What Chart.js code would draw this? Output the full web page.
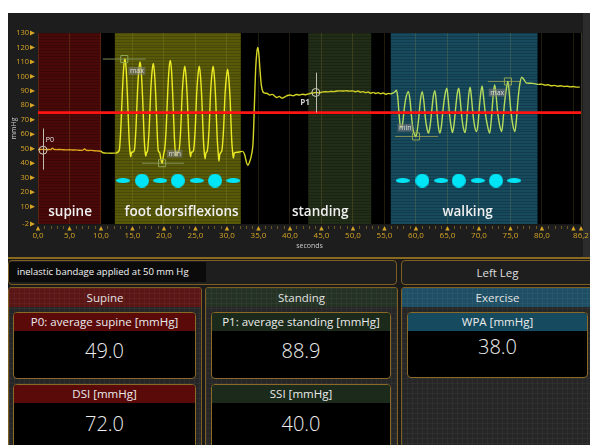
<!DOCTYPE html>
<html>
<head>
<meta charset="utf-8">
<title>Interface pressure – Left Leg</title>
<script src="https://cdn.jsdelivr.net/npm/chart.js@4.4.1/dist/chart.umd.min.js"></script>
<style>
  html, body { margin:0; padding:0; }
  body { width:590px; height:445px; background:#fff; position:relative; overflow:hidden;
         font-family:"Open Sans","Noto Sans",sans-serif; color:#e6e6e6; }
  #plotPanel { position:absolute; left:8px; top:13px; width:582px; height:244px; background:#1d1d1d;
               border-bottom:2px solid #8a6a1e; }
  #plotPanel canvas { display:block; }
  #infoPanel { position:absolute; left:8px; top:259px; width:582px; height:186px; background:#1a1a1a; }
  .tex { background-image:linear-gradient(rgba(255,255,255,.035) 1px, transparent 1px),
                          linear-gradient(90deg, rgba(255,255,255,.035) 1px, transparent 1px);
         background-size:5px 5px; }
  .frame { position:absolute; box-sizing:border-box; border:1px solid #7d5f22; border-radius:4px; overflow:hidden; }
  .note { position:absolute; left:0; top:1px; width:197px; height:20px; background:#0b0b0b; font-size:9.5px;
          line-height:20px; padding-left:8px; color:#f4f4f4; box-sizing:border-box; white-space:nowrap; }
  .caption { text-align:center; font-size:11.5px; line-height:23px; color:#dedede; }
  .col { position:absolute; box-sizing:border-box; border:1px solid #7d5f22; border-radius:3px; background-color:#262626; overflow:hidden; }
  .colHead { height:19px; line-height:19px; text-align:center; font-size:11.5px; color:#e2e2e2; }
  .card { position:absolute; box-sizing:border-box; border:1px solid #8a6a26; border-radius:4px; background:#000; overflow:hidden; }
  .card .head { height:18px; line-height:18px; text-align:center; font-size:11.5px; color:#ececec; white-space:nowrap; }
  .card .val { position:absolute; left:0; right:0; text-align:center; font-size:20px; font-weight:300; line-height:24px; color:#ededed; }
</style>
</head>
<body>
<div id="plotPanel"><canvas id="trace" width="582" height="244"></canvas></div>
<div id="infoPanel"></div>

<div class="frame" style="left:8px;top:260px;width:389px;height:25px;background:#1e1e1e;">
  <div class="note" id="note"></div>
</div>
<div class="frame" style="left:401px;top:260px;width:193px;height:25px;background:#1e1e1e;">
  <div class="caption" id="legName"></div>
</div>

<div class="col tex" style="left:8px;top:287px;width:194px;height:170px;">
  <div class="colHead tex" style="background-color:#5a1515;" id="colSupine"></div>
</div>
<div class="col tex" style="left:205px;top:287px;width:193px;height:170px;">
  <div class="colHead tex" style="background-color:#243224;" id="colStanding"></div>
</div>
<div class="col tex" style="left:401px;top:287px;width:193px;height:170px;">
  <div class="colHead tex" style="background-color:#1f4f64;" id="colExercise"></div>
</div>

<div class="card" style="left:13px;top:312px;width:183px;height:67px;">
  <div class="head" style="background:#5b0a0a;" id="t0"></div><div class="val" style="top:26px;" id="v0"></div>
</div>
<div class="card" style="left:13px;top:384px;width:183px;height:70px;">
  <div class="head" style="background:#5b0a0a;" id="t1"></div><div class="val" style="top:26.5px;" id="v1"></div>
</div>
<div class="card" style="left:211px;top:312px;width:180px;height:67px;">
  <div class="head" style="background:#1b2a1b;" id="t2"></div><div class="val" style="top:26px;" id="v2"></div>
</div>
<div class="card" style="left:211px;top:384px;width:180px;height:70px;">
  <div class="head" style="background:#1b2a1b;" id="t3"></div><div class="val" style="top:26.5px;" id="v3"></div>
</div>
<div class="card" style="left:407px;top:312px;width:181px;height:66px;">
  <div class="head" style="background:#164a5f;" id="t4"></div><div class="val" style="top:21.5px;" id="v4"></div>
</div>

<script>
// ---- recording: interface pressure under the bandage (seconds, mmHg) ----
const seconds = [
  0.0, 0.4, 0.8, 1.2, 1.6, 2.0, 2.3, 2.6, 3.0, 3.5, 4.0, 4.5, 5.0, 5.5, 6.0, 6.5, 7.0, 7.4, 7.7, 8.0,
  8.5, 9.0, 9.5, 10.0, 10.3, 11.0, 11.6, 12.3,
  12.9, 13.15, 13.4, 13.62, 13.8, 13.98, 14.2, 14.45, 14.6, 14.72, 14.85, 15.1,
  15.3, 15.55, 15.8, 16.02, 16.2, 16.38, 16.6, 16.85, 17.0, 17.12, 17.25, 17.35,
  17.4, 17.65, 17.9, 18.12, 18.3, 18.48, 18.7, 18.95, 19.1, 19.3, 19.5, 19.7, 19.85, 20.0,
  20.1, 20.35, 20.6, 20.82, 21.0, 21.18, 21.4, 21.65, 21.8, 21.92, 22.05, 22.25,
  22.4, 22.65, 22.9, 23.12, 23.3, 23.48, 23.7, 23.95, 24.1, 24.22, 24.35, 24.55,
  24.7, 24.95, 25.2, 25.42, 25.6, 25.78, 26.0, 26.25, 26.4, 26.52, 26.65, 26.75,
  26.9, 27.15, 27.4, 27.62, 27.8, 27.98, 28.2, 28.45, 28.6, 28.72, 28.85, 29.05,
  29.2, 29.45, 29.7, 29.92, 30.1, 30.28, 30.5, 30.75, 30.9, 31.02, 31.15, 31.5, 32.0, 32.5, 32.8,
  33.1, 33.3, 33.6, 33.9, 34.15, 34.35, 34.55, 34.75, 34.9, 35.05, 35.25, 35.45, 35.7, 36.0, 36.4,
  36.8, 37.2, 37.6, 37.9, 38.3, 38.7, 39.2, 39.6, 40.0, 40.5, 41.0, 41.5, 42.0, 42.5, 43.0, 43.6,
  44.1, 44.6, 45.0, 45.5, 46.0, 46.5, 47.0, 47.5, 48.0, 48.5, 49.0, 49.5, 50.0, 50.4, 50.8, 51.2,
  51.6, 52.0, 52.4, 52.8, 53.2, 53.6, 54.0, 54.4, 54.8, 55.2, 55.6, 56.0, 56.4, 56.7, 56.9,
  57.1, 57.3, 57.5, 57.7, 57.9, 58.15, 58.45, 58.8, 59.05, 59.3, 59.55, 59.75, 60.0, 60.25, 60.5,
  60.75, 61.0, 61.25, 61.5, 61.75, 62.0, 62.25, 62.5, 62.75, 63.0, 63.2, 63.4, 63.6, 63.8, 64.05,
  64.3, 64.6, 64.9, 65.1, 65.35, 65.6, 65.8, 66.05, 66.3, 66.55, 66.8, 67.0, 67.25, 67.5, 67.8,
  68.0, 68.2, 68.4, 68.6, 68.8, 69.05, 69.3, 69.6, 69.85, 70.05, 70.3, 70.5, 70.7, 71.0, 71.35,
  71.7, 71.9, 72.1, 72.3, 72.5, 72.7, 72.95, 73.25, 73.6, 73.8, 74.0, 74.3, 74.6, 74.8, 75.05,
  75.35, 75.7, 75.95, 76.2, 76.5, 76.8, 77.1, 77.5, 78.0, 78.5, 79.0, 79.5, 80.0, 80.5, 81.0,
  81.5, 82.0, 82.5, 83.0, 83.5, 84.0, 84.5, 85.0, 85.5, 86.0
];
const pressure = [
  49.4, 49.5, 49.6, 49.4, 49.5, 49.4, 50.3, 49.5, 49.4, 49.5, 49.3, 49.2, 49.3, 49.1, 49.2, 49.0, 48.9, 49.8, 48.9, 48.8,
  48.9, 48.6, 48.5, 48.3, 47.2, 47.0, 46.9, 47.0,
  49, 64, 90, 107, 112, 106, 86, 58, 48, 44.5, 47.5, 47.8,
  49, 64, 90, 105, 110, 104, 86, 58, 48, 45, 47.5, 48,
  49, 64, 90, 104, 109, 103, 86, 58, 48.5, 47.5, 43, 40, 43.5, 47.5,
  49, 64, 90, 106, 111, 105, 86, 58, 48, 45, 47.5, 47.8,
  49, 63, 89, 102, 107, 101, 85, 57, 48, 44.5, 47.5, 47.8,
  49, 63, 89, 102, 107, 101, 85, 57, 47.5, 43, 47, 47.5,
  49, 63, 89, 102, 107, 101, 85, 57, 47.5, 41.5, 46, 47.5,
  49, 63, 88, 100, 105, 99, 84, 56, 47.5, 43.5, 47, 47.5, 47.8, 48.2, 46,
  40.5, 38.5, 41, 46, 55, 80, 105, 117, 120, 116, 104, 94, 89.5, 88.5, 88.2,
  87.2, 87.6, 86.3, 85.4, 86.2, 85.0, 85.9, 86.8, 87.2, 86.6, 87.5, 87.2, 87.7, 87.3, 88.0, 88.5,
  88.9, 88.6, 89.1, 89.4, 89.3, 89.6, 89.5, 89.9, 90.0, 89.9, 90.1, 89.8, 90.0, 89.4, 89.9, 89.1,
  89.5, 88.8, 89.2, 88.4, 89.0, 88.2, 88.7, 88.0, 88.5, 87.7, 88.3, 88.0, 88.6, 89.6, 90.4,
  86, 75, 66, 64.3, 68, 78, 86, 89.5, 84, 72, 63, 60, 58.5, 64, 74,
  85, 89.5, 83, 71, 64, 60.8, 66, 76, 86, 90.2, 84, 72, 64, 60.8, 66,
  77, 87, 91.8, 85, 73, 65, 61.2, 67, 78, 88, 91.8, 85, 73, 65, 61.2,
  67, 78, 88, 92.5, 86, 74, 66, 61.9, 67, 78, 89, 93.4, 87, 75, 66,
  60.8, 67, 78, 89, 94.1, 88, 76, 67, 61.9, 68, 79, 90, 96.5, 89, 77,
  67, 61.9, 70, 84, 95, 99.5, 98, 95.6, 95.3, 95.2, 94.8, 94.5, 94.7, 94.0, 94.2,
  93.5, 93.8, 93.2, 93.5, 93.0, 93.2, 92.8, 93.0, 92.6, 92.6
];
const thresholdMmHg = 75;

// ---- protocol phases (seconds) ----
const phaseNames = ['supine', 'foot dorsiflexions', 'standing', 'walking'];
const phaseStart = [0, 12.2, 42.9, 56.0];
const phaseEnd   = [10, 32.2, 52.9, 79.3];

// ---- results ----
const cardTitles = ['P0: average supine [mmHg]', 'DSI [mmHg]', 'P1: average standing [mmHg]', 'SSI [mmHg]', 'WPA [mmHg]'];
const cardValues = [49.0, 72.0, 88.9, 40.0, 38.0];
const columnNames = ['Supine', 'Standing', 'Exercise'];
const noteText = 'inelastic bandage applied at 50 mm Hg';
const legName = 'Left Leg';

// reference points picked on the trace (seconds, mmHg)
const p0Point = { t: 0.8, mmHg: cardValues[0] };
const p1Point = { t: 44.1, mmHg: cardValues[2] };
const dorsiMax = { t: 13.7, mmHg: 112.0, from: 10.3, to: 17.1 };
const dorsiMin = { t: 19.7, mmHg: 40.0, from: 16.5, to: 23.2 };
const walkMin  = { t: 60.0, mmHg: 58.5, from: 56.7, to: 63.5 };
const walkMax  = { t: 74.6, mmHg: 96.5, from: 71.4, to: 76.5 };

// movement rhythm icons (seconds)
const dorsiSmallIcons = [13.5, 19.4, 25.2, 31.0];
const dorsiBigIcons   = [16.5, 22.2, 28.1];
const walkSmallIcons  = [57.9, 64.0, 69.8, 75.6];
const walkBigIcons    = [61.0, 66.8, 72.7];

// ---- axis ticks ----
const xTickValues = [0, 5, 10, 15, 20, 25, 30, 35, 40, 45, 50, 55, 60, 65, 70, 75, 80, 85, 86.2];
const xUnlabelled = [85];
const yTickValues = [-2, 10, 20, 30, 40, 50, 60, 70, 80, 90, 100, 110, 120, 130];

// ---- info panel text ----
document.getElementById('note').textContent = noteText;
document.getElementById('legName').textContent = legName;
['colSupine', 'colStanding', 'colExercise'].forEach((id, i) => document.getElementById(id).textContent = columnNames[i]);
cardTitles.forEach((t, i) => {
  document.getElementById('t' + i).textContent = t;
  document.getElementById('v' + i).textContent = cardValues[i].toFixed(1);
});

// ---- drawing helpers ----
const phaseFill = ['#4a0909', '#59590a', '#222d18', '#174a5d'];
const traceColour = ['#e0aa1e', '#ecec24', '#cfcf26', '#b6dc5c'];
const gold = '#d6a526';
const iconLevel = 28;
const captionLevel = 6;
const captionAt = [5.1, 22.8, 44.8, 68.2];

function blob(w, h) {
  const c = document.createElement('canvas');
  c.width = w; c.height = h;
  const g = c.getContext('2d');
  g.fillStyle = '#00e5f6';
  g.beginPath(); g.ellipse(w / 2, h / 2, w / 2, h / 2, 0, 0, Math.PI * 2); g.fill();
  return c;
}
const smallBlob = blob(14, 5);
const bigBlob = blob(14, 14);

function phaseOf(t) {
  for (let i = 0; i < phaseStart.length; i++) if (t >= phaseStart[i] && t < phaseEnd[i]) return i;
  return -1;
}
function segColour(ctx) {
  const i = phaseOf(ctx.p0.parsed.x);
  return i < 0 ? '#d4d424' : traceColour[i];
}

const backdrop = {
  id: 'backdrop',
  beforeDraw(chart) {
    const { ctx, chartArea: a, scales: { x, y } } = chart;
    ctx.save();
    ctx.fillStyle = '#2c2c2c';
    ctx.fillRect(575, 0, 7, chart.height);
    ctx.fillStyle = '#000';
    ctx.fillRect(a.left, a.top, a.right - a.left, a.bottom - a.top);
    phaseStart.forEach((s, i) => {
      const x0 = x.getPixelForValue(s), x1 = x.getPixelForValue(phaseEnd[i]);
      ctx.fillStyle = phaseFill[i];
      ctx.fillRect(x0, a.top, x1 - x0, a.bottom - a.top);
    });
    // faint raster of the display
    ctx.strokeStyle = 'rgba(0,0,0,0.18)';
    ctx.lineWidth = 1;
    for (let v = -2; v <= 130; v += 2) {
      const py = Math.round(y.getPixelForValue(v)) + 0.5;
      ctx.beginPath(); ctx.moveTo(a.left, py); ctx.lineTo(a.right, py); ctx.stroke();
    }
    ctx.restore();
  },
  afterDraw(chart) {
    const { ctx, chartArea: a, scales: { x, y } } = chart;
    ctx.save();
    // minor second ticks
    ctx.strokeStyle = '#6e5822';
    ctx.lineWidth = 1;
    for (let s = 1; s < 86; s++) {
      if (s % 5 === 0) continue;
      const px = Math.round(x.getPixelForValue(s)) + 0.5;
      ctx.beginPath(); ctx.moveTo(px, a.bottom + 2); ctx.lineTo(px, a.bottom + 5); ctx.stroke();
    }
    // tick arrow heads
    ctx.fillStyle = gold;
    xTickValues.forEach(v => {
      const px = x.getPixelForValue(v);
      ctx.beginPath(); ctx.moveTo(px, a.bottom + 2); ctx.lineTo(px - 2.2, a.bottom + 6.5); ctx.lineTo(px + 2.2, a.bottom + 6.5); ctx.fill();
    });
    yTickValues.forEach(v => {
      const py = y.getPixelForValue(v);
      ctx.beginPath(); ctx.moveTo(a.left - 3, py); ctx.lineTo(a.left - 8, py - 2.4); ctx.lineTo(a.left - 8, py + 2.4); ctx.fill();
    });

    // reference cursors
    ctx.strokeStyle = '#bdbdb0';
    ctx.lineWidth = 1;
    [[p0Point.t, 64, 35.5], [p1Point.t, 102.6, 75]].forEach(([t, hi, lo]) => {
      const px = Math.round(x.getPixelForValue(t)) + 0.5;
      ctx.beginPath(); ctx.moveTo(px, y.getPixelForValue(hi)); ctx.lineTo(px, y.getPixelForValue(lo)); ctx.stroke();
    });
    ctx.font = '7px "Open Sans"';
    ctx.fillStyle = '#e6e6e6';
    ctx.textAlign = 'center'; ctx.textBaseline = 'middle';
    ctx.fillText('P0', x.getPixelForValue(1.9), y.getPixelForValue(56.2));
    ctx.font = 'bold 8px "Open Sans"';
    ctx.fillStyle = '#cfcfcf';
    ctx.fillText('P1', x.getPixelForValue(42.4), y.getPixelForValue(81.7));

    // max / min tags
    ctx.font = '7px "Open Sans"';
    [['max', 15.7, 103.8], ['min', 21.7, 46.6], ['min', 58.3, 64.5], ['max', 72.9, 88.8]].forEach(([txt, t, v]) => {
      const px = x.getPixelForValue(t), py = y.getPixelForValue(v);
      const w = ctx.measureText(txt).width + 3;
      ctx.fillStyle = 'rgba(125,125,125,0.55)';
      ctx.fillRect(px - w / 2, py - 4, w, 8);
      ctx.fillStyle = '#dcdcdc';
      ctx.fillText(txt, px, py);
    });

    // phase captions
    ctx.font = '600 13.5px "Open Sans"';
    ctx.fillStyle = '#f0f0f0';
    phaseNames.forEach((n, i) => ctx.fillText(n, x.getPixelForValue(captionAt[i]), y.getPixelForValue(captionLevel)));
    ctx.restore();
  }
};

const pts = (ts, v) => ts.map(t => ({ x: t, y: v }));
const bracket = m => ({
  data: [{ x: m.from, y: m.mmHg }, { x: m.to, y: m.mmHg }],
  borderColor: '#7f8f56', borderWidth: 1, pointRadius: 0, order: 2
});
const square = m => ({
  data: [{ x: m.t, y: m.mmHg }], showLine: false, pointStyle: 'rect', pointRadius: 5,
  pointBorderColor: '#8fa552', pointBackgroundColor: 'rgba(0,0,0,0)', pointBorderWidth: 1, order: 0
});
const cursor = p => ({
  data: [{ x: p.t, y: p.mmHg }], showLine: false, pointStyle: 'circle', pointRadius: 4,
  pointBorderColor: '#cfcfba', pointBackgroundColor: 'rgba(0,0,0,0)', pointBorderWidth: 1, order: 0
});
const icons = (ts, img) => ({
  data: pts(ts, iconLevel), showLine: false, pointStyle: img, pointRadius: 7, order: 0
});

new Chart(document.getElementById('trace'), {
  type: 'line',
  data: {
    datasets: [
      {
        data: seconds.map((t, i) => ({ x: t, y: pressure[i] })),
        borderWidth: 1.4, pointRadius: 0, cubicInterpolationMode: 'monotone',
        segment: { borderColor: segColour }, borderColor: '#ecec24', order: 1
      },
      {
        data: [{ x: 0, y: thresholdMmHg }, { x: 86.2, y: thresholdMmHg }],
        borderColor: '#ff1414', borderWidth: 2.6, pointRadius: 0, order: 0
      },
      bracket(dorsiMax), bracket(dorsiMin), bracket(walkMin), bracket(walkMax),
      square(dorsiMax), square(dorsiMin), square(walkMin), square(walkMax),
      cursor(p0Point), cursor(p1Point),
      icons(dorsiSmallIcons, smallBlob), icons(dorsiBigIcons, bigBlob),
      icons(walkSmallIcons, smallBlob), icons(walkBigIcons, bigBlob)
    ]
  },
  options: {
    responsive: false, animation: false, events: [],
    layout: { padding: { top: 20, right: 9, left: 0, bottom: 0 } },
    plugins: { legend: { display: false }, tooltip: { enabled: false } },
    scales: {
      x: {
        type: 'linear', min: 0, max: 86.2,
        afterBuildTicks: s => { s.ticks = xTickValues.map(v => ({ value: v })); },
        afterFit: s => { s.height = 33; s.paddingLeft = 0; s.paddingRight = 0; },
        ticks: {
          color: gold, font: { size: 8, family: 'Open Sans' }, padding: 7, maxRotation: 0, autoSkip: false,
          callback: v => xUnlabelled.includes(v) ? '' : v.toFixed(1).replace('.', ',')
        },
        grid: { color: 'rgba(200,180,70,0.16)', drawTicks: false },
        border: { display: false },
        title: { display: true, text: 'seconds', color: '#c8c8c8', font: { size: 7, family: 'Open Sans' }, padding: { top: 0, bottom: 7 } }
      },
      y: {
        min: -2, max: 130,
        afterBuildTicks: s => { s.ticks = yTickValues.map(v => ({ value: v })); },
        afterFit: s => { s.width = 30; s.paddingTop = 0; s.paddingBottom = 0; },
        ticks: { color: gold, font: { size: 7.5, family: 'Open Sans' }, padding: 9, autoSkip: false },
        grid: { display: false, drawTicks: false },
        border: { display: false },
        title: { display: true, text: 'mmHg', color: '#c8c8c8', font: { size: 7, family: 'Open Sans' }, padding: { top: 2, bottom: 0 } }
      }
    }
  },
  plugins: [backdrop]
});
</script>
</body>
</html>
